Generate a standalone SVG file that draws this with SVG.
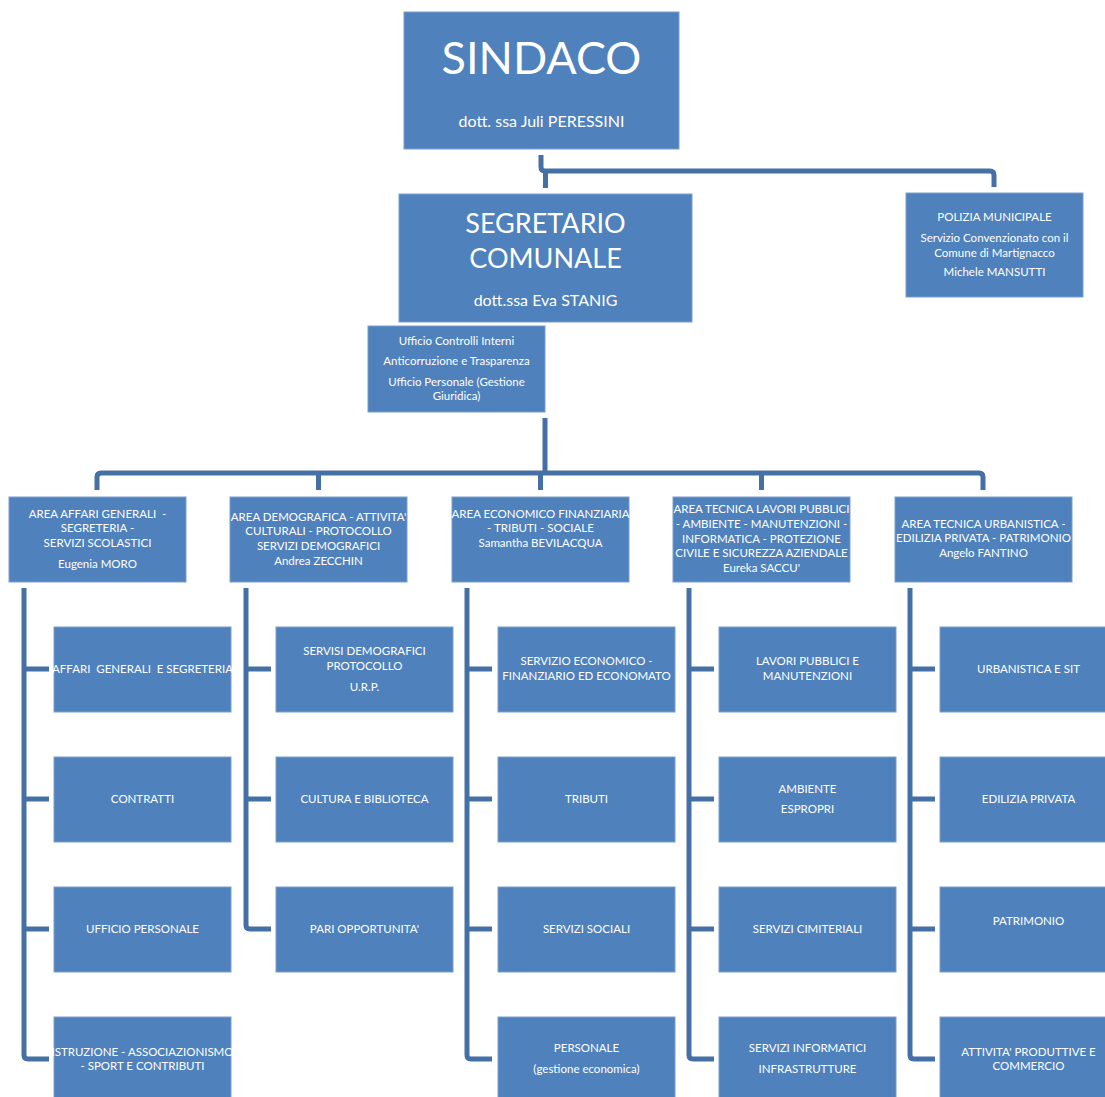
<svg xmlns="http://www.w3.org/2000/svg" width="1105" height="1097" viewBox="0 0 1105 1097">
<style>
.box{fill:#4F81BD;stroke:#7C9FCE;stroke-width:1}
text{font-family:Lato,"Open Sans","Liberation Sans",sans-serif;fill:#FFFFFF;text-anchor:middle;white-space:pre}
.s{font-size:11.5px}
.conn path{fill:none;stroke:#4570A6;stroke-width:5;stroke-linejoin:round}
</style>
<rect width="1105" height="1097" fill="#FFFFFF"/>
<g class="conn" id="connectors">
<path d="M541 155 V167 Q541 171 545 171 H990 Q994 171 994 175 V187"/>
<path d="M545.5 171 V188"/>
<path d="M545 418 V473"/>
<path d="M97 490 V477 Q97 473 101 473 H979 Q983 473 983 477 V490"/>
<path d="M318.5 473 V490"/>
<path d="M540.5 473 V490"/>
<path d="M761.5 473 V490"/>
<path d="M24 588 V1055 Q24 1059 28 1059 H49"/>
<path d="M24 669 H49 M24 799 H49 M24 929 H49"/>
<path d="M246 588 V925 Q246 929 250 929 H271"/>
<path d="M246 669 H271 M246 799 H271"/>
<path d="M467 588 V1055 Q467 1059 471 1059 H492"/>
<path d="M467 669 H492 M467 799 H492 M467 929 H492"/>
<path d="M689 588 V1055 Q689 1059 693 1059 H714"/>
<path d="M689 669 H714 M689 799 H714 M689 929 H714"/>
<path d="M910 588 V1055 Q910 1059 914 1059 H935"/>
<path d="M910 669 H935 M910 799 H935 M910 929 H935"/>
</g>
<g id="sindaco"><rect class="box" x="404" y="12" width="275" height="137"/>
<text x="541.5" y="74" style="font-size:45px">SINDACO</text>
<text x="541.5" y="127" style="font-size:16px">dott. ssa Juli PERESSINI</text></g>
<g id="segretario"><rect class="box" x="399" y="194" width="293" height="128"/>
<text x="545.5" y="233" style="font-size:27px">SEGRETARIO</text>
<text x="545.5" y="268" style="font-size:27px">COMUNALE</text>
<text x="545.5" y="306" style="font-size:16px">dott.ssa Eva STANIG</text></g>
<g id="polizia"><rect class="box" x="906" y="193" width="177" height="104"/>
<text class="s" x="994.5" y="221">POLIZIA MUNICIPALE</text>
<text class="s" x="994.5" y="242">Servizio Convenzionato con il</text>
<text class="s" x="994.5" y="257">Comune di Martignacco</text>
<text class="s" x="994.5" y="276">Michele MANSUTTI</text></g>
<g id="ufficio"><rect class="box" x="368" y="326" width="177" height="86"/>
<text class="s" x="456.5" y="345">Ufficio Controlli Interni</text>
<text class="s" x="456.5" y="365">Anticorruzione e Trasparenza</text>
<text class="s" x="456.5" y="386">Ufficio Personale (Gestione</text>
<text class="s" x="456.5" y="400">Giuridica)</text></g>
<g id="area1"><rect class="box" x="9" y="497" width="177" height="85"/>
<text class="s" x="97.5" y="518">AREA AFFARI GENERALI  -</text>
<text class="s" x="97.5" y="532">SEGRETERIA -</text>
<text class="s" x="97.5" y="547">SERVIZI SCOLASTICI</text>
<text class="s" x="97.5" y="568">Eugenia MORO</text></g>
<g id="area2"><rect class="box" x="230" y="497" width="177" height="85"/>
<text class="s" x="318.5" y="521">AREA DEMOGRAFICA - ATTIVITA'</text>
<text class="s" x="318.5" y="535">CULTURALI - PROTOCOLLO</text>
<text class="s" x="318.5" y="550">SERVIZI DEMOGRAFICI</text>
<text class="s" x="318.5" y="565">Andrea ZECCHIN</text></g>
<g id="area3"><rect class="box" x="452" y="497" width="177" height="85"/>
<text class="s" x="540.5" y="518">AREA ECONOMICO FINANZIARIA</text>
<text class="s" x="540.5" y="532">- TRIBUTI - SOCIALE</text>
<text class="s" x="540.5" y="547">Samantha BEVILACQUA</text></g>
<g id="area4"><rect class="box" x="673" y="497" width="177" height="85"/>
<text class="s" x="761.5" y="513">AREA TECNICA LAVORI PUBBLICI</text>
<text class="s" x="761.5" y="528">- AMBIENTE - MANUTENZIONI -</text>
<text class="s" x="761.5" y="543">INFORMATICA - PROTEZIONE</text>
<text class="s" x="761.5" y="557">CIVILE E SICUREZZA AZIENDALE</text>
<text class="s" x="761.5" y="572">Eureka SACCU'</text></g>
<g id="area5"><rect class="box" x="895" y="497" width="177" height="85"/>
<text class="s" x="983.5" y="528">AREA TECNICA URBANISTICA -</text>
<text class="s" x="983.5" y="542">EDILIZIA PRIVATA - PATRIMONIO</text>
<text class="s" x="983.5" y="557">Angelo FANTINO</text></g>
<g id="c1r1"><rect class="box" x="54" y="627" width="177" height="85"/><text class="s" x="142.5" y="673">AFFARI  GENERALI  E SEGRETERIA</text></g>
<g id="c1r2"><rect class="box" x="54" y="757" width="177" height="85"/><text class="s" x="142.5" y="803">CONTRATTI</text></g>
<g id="c1r3"><rect class="box" x="54" y="887" width="177" height="85"/><text class="s" x="142.5" y="933">UFFICIO PERSONALE</text></g>
<g id="c1r4"><rect class="box" x="54" y="1017" width="177" height="85"/><text class="s" x="142.5" y="1056">ISTRUZIONE - ASSOCIAZIONISMO</text><text class="s" x="142.5" y="1070">- SPORT E CONTRIBUTI</text></g>
<g id="c2r1"><rect class="box" x="276" y="627" width="177" height="85"/><text class="s" x="364.5" y="655">SERVISI DEMOGRAFICI</text><text class="s" x="364.5" y="670">PROTOCOLLO</text><text class="s" x="364.5" y="691">U.R.P.</text></g>
<g id="c2r2"><rect class="box" x="276" y="757" width="177" height="85"/><text class="s" x="364.5" y="803">CULTURA E BIBLIOTECA</text></g>
<g id="c2r3"><rect class="box" x="276" y="887" width="177" height="85"/><text class="s" x="364.5" y="933">PARI OPPORTUNITA'</text></g>
<g id="c3r1"><rect class="box" x="498" y="627" width="177" height="85"/><text class="s" x="586.5" y="665">SERVIZIO ECONOMICO -</text><text class="s" x="586.5" y="680">FINANZIARIO ED ECONOMATO</text></g>
<g id="c3r2"><rect class="box" x="498" y="757" width="177" height="85"/><text class="s" x="586.5" y="803">TRIBUTI</text></g>
<g id="c3r3"><rect class="box" x="498" y="887" width="177" height="85"/><text class="s" x="586.5" y="933">SERVIZI SOCIALI</text></g>
<g id="c3r4"><rect class="box" x="498" y="1017" width="177" height="85"/><text class="s" x="586.5" y="1052">PERSONALE</text><text class="s" x="586.5" y="1073">(gestione economica)</text></g>
<g id="c4r1"><rect class="box" x="719" y="627" width="177" height="85"/><text class="s" x="807.5" y="665">LAVORI PUBBLICI E</text><text class="s" x="807.5" y="680">MANUTENZIONI</text></g>
<g id="c4r2"><rect class="box" x="719" y="757" width="177" height="85"/><text class="s" x="807.5" y="793">AMBIENTE</text><text class="s" x="807.5" y="813">ESPROPRI</text></g>
<g id="c4r3"><rect class="box" x="719" y="887" width="177" height="85"/><text class="s" x="807.5" y="933">SERVIZI CIMITERIALI</text></g>
<g id="c4r4"><rect class="box" x="719" y="1017" width="177" height="85"/><text class="s" x="807.5" y="1052">SERVIZI INFORMATICI</text><text class="s" x="807.5" y="1073">INFRASTRUTTURE</text></g>
<g id="c5r1"><rect class="box" x="940" y="627" width="177" height="85"/><text class="s" x="1028.5" y="673">URBANISTICA E SIT</text></g>
<g id="c5r2"><rect class="box" x="940" y="757" width="177" height="85"/><text class="s" x="1028.5" y="803">EDILIZIA PRIVATA</text></g>
<g id="c5r3"><rect class="box" x="940" y="887" width="177" height="85"/><text class="s" x="1028.5" y="925">PATRIMONIO</text></g>
<g id="c5r4"><rect class="box" x="940" y="1017" width="177" height="85"/><text class="s" x="1028.5" y="1056">ATTIVITA' PRODUTTIVE E</text><text class="s" x="1028.5" y="1070">COMMERCIO</text></g>
</svg>
